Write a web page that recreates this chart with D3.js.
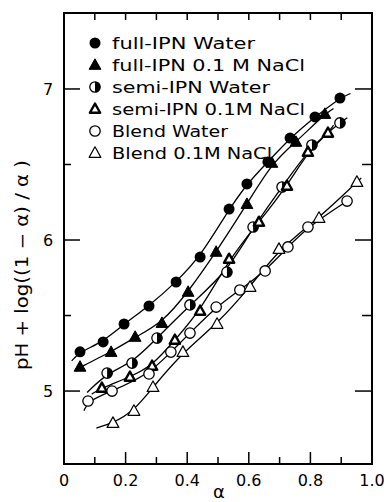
<!DOCTYPE html>
<html>
<head>
<meta charset="utf-8">
<script src="https://cdn.jsdelivr.net/npm/d3@7"></script>
<style>
  body { margin: 0; background: #fff; }
  svg { display: block; }
  text { font-family: "DejaVu Sans", sans-serif; fill: #000; }
</style>
</head>
<body>
<svg width="384" height="502"></svg>
<script>
// values: [alpha, pH + log((1-a)/a)]
let fullWater = [[0.052,5.26],[0.127,5.325],[0.195,5.444],[0.276,5.563],[0.364,5.722],[0.442,5.887],
    [0.536,6.205],[0.594,6.371],[0.662,6.517],[0.734,6.675],[0.815,6.815],[0.896,6.94]];
let fullNaCl = [[0.052,5.16],[0.153,5.258],[0.231,5.358],[0.318,5.45],[0.403,5.656],[0.494,5.921],
    [0.594,6.238],[0.675,6.51],[0.753,6.649],[0.847,6.834]];
let semiWater = [[0.14,5.119],[0.221,5.185],[0.302,5.351],[0.409,5.57],[0.529,5.788],[0.614,6.086],
    [0.708,6.351],[0.805,6.629],[0.896,6.775]];
let semiNaCl = [[0.123,5.02],[0.214,5.093],[0.286,5.166],[0.36,5.338],[0.442,5.53],[0.536,5.874],
    [0.633,6.119],[0.724,6.358],[0.792,6.583],[0.857,6.709]];
let blendWater = [[0.078,4.934],[0.156,5.0],[0.276,5.113],[0.347,5.258],[0.409,5.384],[0.494,5.556],
    [0.571,5.669],[0.653,5.795],[0.727,5.954],[0.792,6.086],[0.919,6.258]];
let blendNaCl = [[0.159,4.788],[0.227,4.868],[0.289,5.026],[0.386,5.258],[0.497,5.444],[0.604,5.689],
    [0.698,5.94],[0.828,6.146],[0.951,6.384]];

// where each drawn curve starts and ends
let fitEnds = [
    [[0.025,5.2],[0.93,6.97]],
    [[0.04,5.13],[0.875,6.87]],
    [[0.075,4.99],[0.92,6.81]],
    [[0.09,4.98],[0.875,6.76]],
    [[0.065,4.87],[0.93,6.27]],
    [[0.105,4.755],[0.965,6.41]]
];

let seriesNames = ["full-IPN  Water", "full-IPN 0.1 M  NaCl", "semi-IPN  Water",
    "semi-IPN 0.1M NaCl", "Blend Water", "Blend 0.1M NaCl"];
let seriesData = [fullWater, fullNaCl, semiWater, semiNaCl, blendWater, blendNaCl];
let markers = ["dot", "tri", "half", "thicktri", "ring", "opentri"];

let xTicks = [0, 0.2, 0.4, 0.6, 0.8, 1.0];
let xTickLabels = ["0", "0.2", "0.4", "0.6", "0.8", "1.0"];
let yTicks = [5, 6, 7];

let svg = d3.select("svg");
let x = d3.scaleLinear().domain([0, 1]).range([64, 372]);
let y = d3.scaleLinear().domain([4.517, 7.503]).range([464, 13]);

// frame
svg.append("rect")
    .attr("x", x(0)).attr("y", y(7.503))
    .attr("width", x(1) - x(0)).attr("height", y(4.517) - y(7.503))
    .attr("fill", "none").attr("stroke", "#000").attr("stroke-width", 2);

// x ticks top and bottom
let minorX = d3.range(1, 10).map(d => d / 10);
minorX.forEach(function (t, i) {
    let len = (i % 2 === 1) ? 12 : 7;
    svg.append("line").attr("x1", x(t)).attr("x2", x(t))
        .attr("y1", y(4.517)).attr("y2", y(4.517) - len)
        .attr("stroke", "#000").attr("stroke-width", 1.5);
    svg.append("line").attr("x1", x(t)).attr("x2", x(t))
        .attr("y1", y(7.503)).attr("y2", y(7.503) + 7)
        .attr("stroke", "#000").attr("stroke-width", 1.5);
});

// y ticks left and right
[5, 5.5, 6, 6.5, 7].forEach(function (t) {
    let major = yTicks.indexOf(t) >= 0;
    let len = major ? 16 : 7;
    svg.append("line").attr("x1", x(0)).attr("x2", x(0) + len)
        .attr("y1", y(t)).attr("y2", y(t))
        .attr("stroke", "#000").attr("stroke-width", 1.5);
    svg.append("line").attr("x1", x(1)).attr("x2", x(1) - (major ? 17 : 10))
        .attr("y1", y(t)).attr("y2", y(t))
        .attr("stroke", "#000").attr("stroke-width", 1.5);
});

// tick labels
svg.selectAll(".xl").data(xTicks).enter().append("text")
    .attr("x", d => x(d)).attr("y", 486)
    .attr("text-anchor", "middle").attr("font-size", 16)
    .text((d, i) => xTickLabels[i]);
svg.selectAll(".yl").data(yTicks).enter().append("text")
    .attr("x", 48).attr("y", d => y(d) + 6)
    .attr("text-anchor", "middle").attr("font-size", 16)
    .text(d => d);

// axis titles
svg.append("text").attr("x", 219).attr("y", 498)
    .attr("text-anchor", "middle").attr("font-size", 18).text("α");
svg.append("text")
    .attr("transform", "translate(28,265) rotate(-90)")
    .attr("text-anchor", "middle").attr("font-size", 17)
    .attr("textLength", 210).attr("lengthAdjust", "spacingAndGlyphs")
    .text("pH + log((1 − α) / α )");

// fitted curves
let line = d3.line().x(d => x(d[0])).y(d => y(d[1])).curve(d3.curveBasis);
seriesData.forEach(function (data, i) {
    let pts = [fitEnds[i][0]].concat(data, [fitEnds[i][1]]);
    svg.append("path").attr("d", line(pts))
        .attr("fill", "none").attr("stroke", "#000").attr("stroke-width", 1.3);
});

function drawMarker(g, type, cx, cy) {
    if (type === "dot") {
        g.append("circle").attr("cx", cx).attr("cy", cy).attr("r", 5.5).attr("fill", "#000");
    } else if (type === "ring") {
        g.append("circle").attr("cx", cx).attr("cy", cy).attr("r", 5.2)
            .attr("fill", "#fff").attr("stroke", "#000").attr("stroke-width", 1.3);
    } else if (type === "half") {
        g.append("circle").attr("cx", cx).attr("cy", cy).attr("r", 5.2)
            .attr("fill", "#fff").attr("stroke", "#000").attr("stroke-width", 1.3);
        g.append("path")
            .attr("d", "M" + cx + "," + (cy - 5.2) + " A5.2,5.2 0 0,1 " + cx + "," + (cy + 5.2) + " Z")
            .attr("fill", "#000");
    } else {
        let s = type === "thicktri" ? 5.4 : 6.2;
        let d = "M" + cx + "," + (cy - s) + " L" + (cx + s * 0.95) + "," + (cy + s * 0.7) +
            " L" + (cx - s * 0.95) + "," + (cy + s * 0.7) + " Z";
        let p = g.append("path").attr("d", d).attr("stroke", "#000").attr("stroke-linejoin", "round");
        if (type === "tri") p.attr("fill", "#000").attr("stroke-width", 1);
        if (type === "thicktri") p.attr("fill", "#fff").attr("stroke-width", 2.4);
        if (type === "opentri") p.attr("fill", "#fff").attr("stroke-width", 1.2);
    }
}

// points
seriesData.forEach(function (data, i) {
    let g = svg.append("g");
    data.forEach(d => drawMarker(g, markers[i], x(d[0]), y(d[1])));
});

// legend
let legendY = [43, 65, 87, 109, 131, 153];
let legendW = [143, 193, 158, 193, 116, 160];
seriesNames.forEach(function (name, i) {
    drawMarker(svg, markers[i], 95, legendY[i]);
    svg.append("text").attr("x", 112).attr("y", legendY[i] + 6)
        .attr("font-size", 16)
        .attr("textLength", legendW[i]).attr("lengthAdjust", "spacingAndGlyphs")
        .text(name);
});
</script>
</body>
</html>
